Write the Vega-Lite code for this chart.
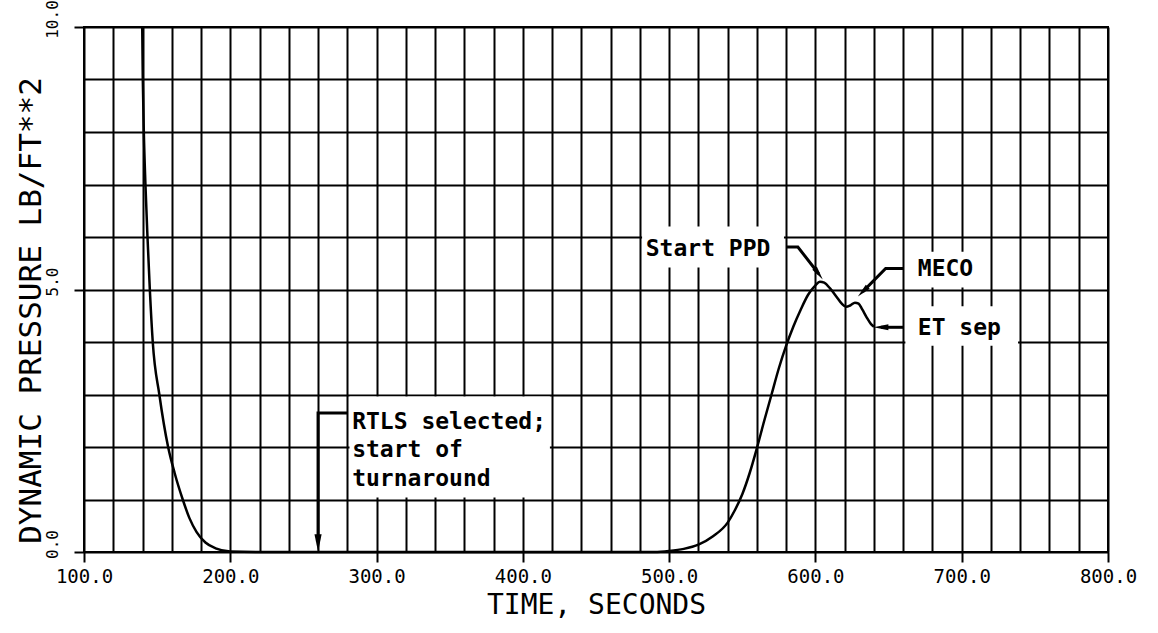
{
  "$schema": "https://vega.github.io/schema/vega-lite/v6.json",
  "width": 1024,
  "height": 525,
  "autosize": {"type": "none"},
  "padding": {"left": 84, "top": 27, "right": 50, "bottom": 81},
  "background": "white",
  "config": {"view": {"stroke": "black", "strokeWidth": 2}, "font": "DejaVu Sans Mono"},
  "datasets": {
    "curve": [
      {"t": 139.8, "q": 10}, {"t": 140.2, "q": 9}, {"t": 140.9, "q": 8}, {"t": 142, "q": 7},
      {"t": 143.4, "q": 6}, {"t": 145, "q": 5}, {"t": 147, "q": 4}, {"t": 151.5, "q": 3},
      {"t": 157.5, "q": 2}, {"t": 162, "q": 1.5}, {"t": 167.5, "q": 1}, {"t": 172, "q": 0.65},
      {"t": 177, "q": 0.38}, {"t": 183, "q": 0.18}, {"t": 190, "q": 0.07}, {"t": 200, "q": 0.01},
      {"t": 220, "q": 0}, {"t": 300, "q": 0}, {"t": 400, "q": 0}, {"t": 490, "q": 0},
      {"t": 500, "q": 0.02}, {"t": 510, "q": 0.06}, {"t": 520, "q": 0.14}, {"t": 530, "q": 0.3},
      {"t": 540, "q": 0.56}, {"t": 545, "q": 0.8}, {"t": 550, "q": 1.1}, {"t": 555, "q": 1.5},
      {"t": 560, "q": 1.98}, {"t": 565, "q": 2.5}, {"t": 570, "q": 3.0}, {"t": 575, "q": 3.5},
      {"t": 580, "q": 3.93}, {"t": 585, "q": 4.3}, {"t": 590, "q": 4.62}, {"t": 595, "q": 4.9},
      {"t": 600, "q": 5.08}, {"t": 603, "q": 5.15}, {"t": 606, "q": 5.13}, {"t": 610, "q": 5.02},
      {"t": 615, "q": 4.84}, {"t": 618, "q": 4.73}, {"t": 621, "q": 4.67}, {"t": 624, "q": 4.7},
      {"t": 627, "q": 4.75}, {"t": 629.5, "q": 4.73}, {"t": 632, "q": 4.62}, {"t": 635, "q": 4.47},
      {"t": 638, "q": 4.34}, {"t": 640, "q": 4.29}
    ],
    "boxes": [
      {"t": 281.5, "t2": 418.5, "q": 1.04, "q2": 2.96},
      {"t": 481.5, "t2": 578.5, "q": 5.42, "q2": 6.2},
      {"t": 661.5, "t2": 718.5, "q": 5.04, "q2": 5.72},
      {"t": 661.5, "t2": 738.5, "q": 3.93, "q2": 4.68}
    ],
    "labels": [
      {"t": 283.3, "q": 2.35, "text": "RTLS selected;"},
      {"t": 283.3, "q": 1.81, "text": "start of"},
      {"t": 283.3, "q": 1.26, "text": "turnaround"},
      {"t": 484, "q": 5.63, "text": "Start PPD"},
      {"t": 670, "q": 5.25, "text": "MECO"},
      {"t": 670, "q": 4.14, "text": "ET sep"}
    ],
    "arrows": [
      {"id": "rtls", "k": 1, "t": 280, "q": 2.65},
      {"id": "rtls", "k": 2, "t": 260, "q": 2.65},
      {"id": "rtls", "k": 3, "t": 260, "q": 0.2},
      {"id": "ppd", "k": 1, "t": 580, "q": 5.81},
      {"id": "ppd", "k": 2, "t": 588, "q": 5.81},
      {"id": "ppd", "k": 3, "t": 602.2, "q": 5.3},
      {"id": "meco", "k": 1, "t": 660, "q": 5.4},
      {"id": "meco", "k": 2, "t": 648, "q": 5.4},
      {"id": "meco", "k": 3, "t": 632.4, "q": 4.96},
      {"id": "et", "k": 1, "t": 660, "q": 4.28},
      {"id": "et", "k": 2, "t": 644.8, "q": 4.28}
    ],
    "heads": [
      {"t": 260, "q": 0.17, "angle": 180, "s": 320},
      {"t": 602.2, "q": 5.3, "angle": 144, "s": 196},
      {"t": 632.4, "q": 4.96, "angle": 225, "s": 196},
      {"t": 644.8, "q": 4.28, "angle": 270, "s": 220}
    ]
  },
  "layer": [
    {
      "data": {"name": "boxes"},
      "mark": {"type": "rect", "fill": "white", "strokeWidth": 0},
      "encoding": {
        "x": {
          "field": "t", "type": "quantitative",
          "scale": {"domain": [100, 800], "nice": false, "zero": false},
          "axis": {
            "title": "TIME, SECONDS",
            "values": [100,120,140,160,180,200,220,240,260,280,300,320,340,360,380,400,420,440,460,480,500,520,540,560,580,600,620,640,660,680,700,720,740,760,780,800],
            "tickCount": 40,
            "grid": true, "gridColor": "black", "gridWidth": 2, "gridOpacity": 1,
            "domain": false,
            "ticks": true, "tickColor": "black", "tickWidth": 2, "tickSize": 10,
            "tickOpacity": {"condition": {"test": "datum.value % 100 === 0", "value": 1}, "value": 0},
            "labelExpr": "datum.value % 100 === 0 ? format(datum.value, '.1f') : ''",
            "labelFont": "DejaVu Sans Mono", "labelFontSize": 19, "labelColor": "black",
            "labelPadding": 5, "labelOverlap": false, "labelFlush": false,
            "titleFont": "DejaVu Sans Mono", "titleFontSize": 28, "titleFontWeight": "normal",
            "titleColor": "black", "titlePadding": 5
          }
        },
        "x2": {"field": "t2"},
        "y": {
          "field": "q", "type": "quantitative",
          "scale": {"domain": [0, 10], "nice": false},
          "axis": {
            "title": "DYNAMIC PRESSURE LB/FT**2",
            "values": [0,1,2,3,4,5,6,7,8,9,10],
            "tickCount": 20,
            "grid": true, "gridColor": "black", "gridWidth": 2, "gridOpacity": 1,
            "domain": false,
            "ticks": true, "tickColor": "black", "tickWidth": 2, "tickSize": 10,
            "tickOpacity": {"condition": {"test": "datum.value % 5 === 0", "value": 1}, "value": 0},
            "labelExpr": "datum.value % 5 === 0 ? format(datum.value, '.1f') : ''",
            "labelAngle": -90, "labelAlign": "center", "labelBaseline": "bottom",
            "labelFont": "DejaVu Sans Mono", "labelFontSize": 16, "labelColor": "black",
            "labelPadding": 14, "labelOffset": -8, "labelOverlap": false, "labelFlush": false,
            "titleFont": "DejaVu Sans Mono", "titleFontSize": 31, "titleFontWeight": "normal",
            "titleColor": "black", "titleAngle": -90, "titleAlign": "center",
            "titleBaseline": "alphabetic", "titleX": -44, "titleY": 283
          }
        },
        "y2": {"field": "q2"}
      }
    },
    {
      "data": {"name": "curve"},
      "mark": {"type": "line", "color": "black", "strokeWidth": 2.5, "interpolate": "monotone"},
      "encoding": {
        "x": {"field": "t", "type": "quantitative"},
        "y": {"field": "q", "type": "quantitative"}
      }
    },
    {
      "data": {"name": "arrows"},
      "mark": {"type": "line", "color": "black", "strokeWidth": 3},
      "encoding": {
        "x": {"field": "t", "type": "quantitative"},
        "y": {"field": "q", "type": "quantitative"},
        "detail": {"field": "id"},
        "order": {"field": "k", "type": "quantitative"}
      }
    },
    {
      "data": {"name": "heads"},
      "mark": {"type": "point", "shape": "M0,-1L-0.4,1L0.4,1Z", "filled": true, "color": "black", "opacity": 1},
      "encoding": {
        "x": {"field": "t", "type": "quantitative"},
        "y": {"field": "q", "type": "quantitative"},
        "angle": {"field": "angle", "type": "quantitative", "scale": null},
        "size": {"field": "s", "type": "quantitative", "scale": null}
      }
    },
    {
      "data": {"name": "labels"},
      "mark": {"type": "text", "align": "left", "baseline": "alphabetic", "font": "DejaVu Sans Mono", "fontWeight": "bold", "fontSize": 23, "color": "black"},
      "encoding": {
        "x": {"field": "t", "type": "quantitative"},
        "y": {"field": "q", "type": "quantitative"},
        "text": {"field": "text"}
      }
    }
  ]
}
